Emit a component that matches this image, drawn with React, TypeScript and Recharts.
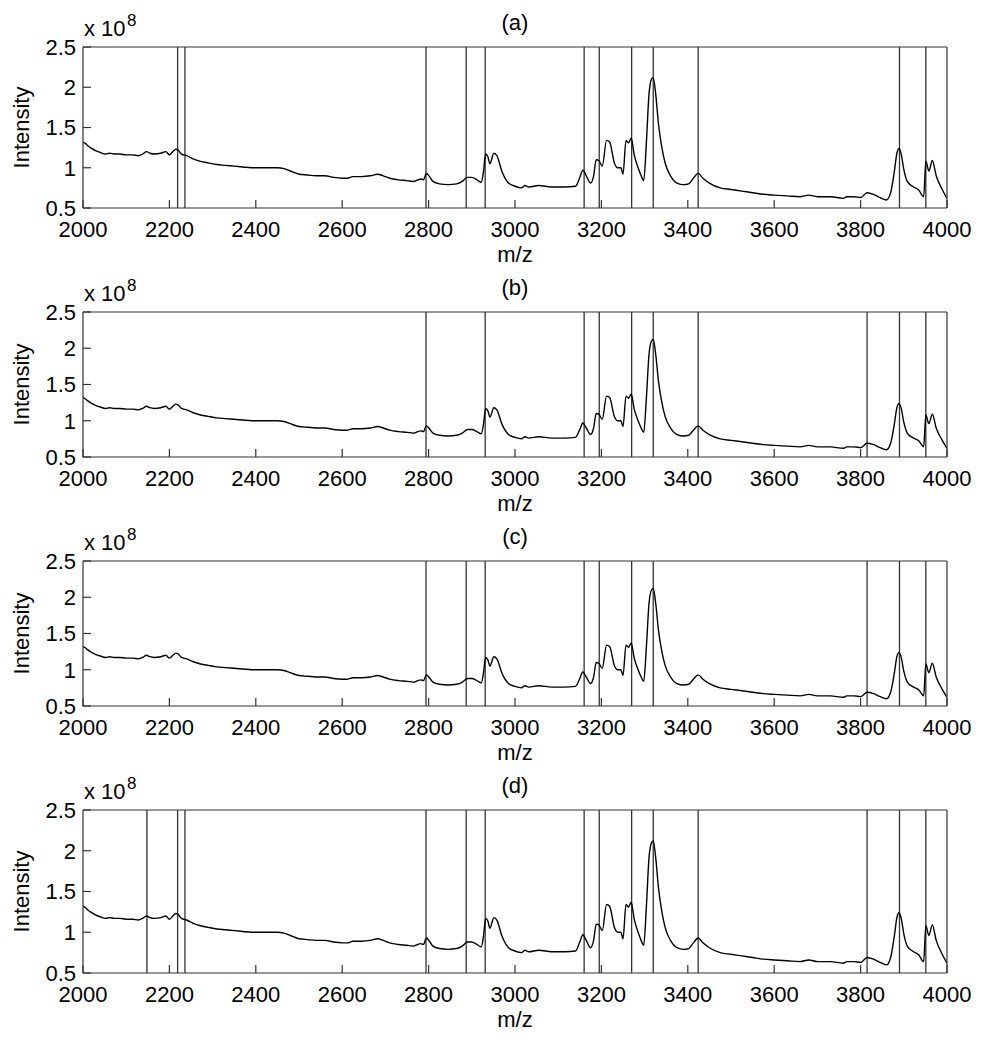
import { LineChart, Line, XAxis, YAxis, ReferenceLine } from "recharts";

// m/z sample positions and intensity (x 10^8)
const mzValues = [
  2000, 2006, 2012, 2020, 2030, 2040, 2052, 2062, 2072, 2085, 2100, 2115, 2128, 2138, 2147, 2155,
  2165, 2180, 2192, 2200, 2208, 2215, 2220, 2228, 2240, 2255, 2272, 2290, 2310, 2330, 2350, 2370,
  2390, 2410, 2430, 2450, 2465, 2480, 2500, 2520, 2540, 2560, 2580, 2600, 2612, 2625, 2645, 2665,
  2682, 2695, 2710, 2730, 2750, 2765, 2775, 2782, 2788, 2795, 2802, 2810, 2825, 2845, 2865, 2878,
  2890, 2900, 2912, 2922, 2927, 2932, 2937, 2942, 2951, 2958, 2970, 2985, 3000, 3015, 3023, 3032,
  3055, 3085, 3115, 3140, 3150, 3157, 3165, 3175, 3182, 3188, 3194, 3202, 3212, 3219, 3230, 3238,
  3245, 3250, 3257, 3263, 3269, 3276, 3285, 3292, 3298, 3304, 3310, 3316, 3320, 3326, 3332, 3340,
  3348, 3360, 3375, 3390, 3402, 3413, 3424, 3435, 3450, 3475, 3500, 3525, 3550, 3575, 3600, 3630,
  3660, 3680, 3700, 3730, 3760, 3768, 3785, 3800, 3815, 3830, 3845, 3860, 3870, 3878, 3884, 3889,
  3894, 3900, 3908, 3920, 3935, 3946, 3951, 3958, 3966, 3975, 3988, 4000,
];

const intensityValues = [
  1.32, 1.3, 1.27, 1.24, 1.21, 1.19, 1.17, 1.18, 1.17, 1.17, 1.16, 1.16, 1.15, 1.17, 1.2, 1.18,
  1.17, 1.18, 1.2, 1.16, 1.2, 1.23, 1.22, 1.17, 1.15, 1.11, 1.08, 1.06, 1.04, 1.03, 1.02, 1.01,
  1.0, 1.0, 1.0, 1.0, 0.99, 0.96, 0.92, 0.91, 0.9, 0.9, 0.88, 0.87, 0.87, 0.89, 0.89, 0.9,
  0.92, 0.9, 0.87, 0.85, 0.84, 0.83, 0.85, 0.86, 0.85, 0.93, 0.89, 0.83, 0.8, 0.79, 0.8, 0.83,
  0.88, 0.88, 0.85, 0.82, 0.95, 1.17, 1.14, 1.05, 1.18, 1.15, 0.95, 0.81, 0.77, 0.75, 0.78, 0.76,
  0.78, 0.76, 0.76, 0.77, 0.88, 0.97, 0.9, 0.81, 0.9, 1.1, 1.09, 1.02, 1.34, 1.32, 1.06, 1.0,
  1.0, 0.92, 1.34, 1.31, 1.37, 1.16, 1.0, 0.9, 0.84, 1.3, 1.9, 2.1, 2.12, 1.9, 1.55, 1.25,
  1.05, 0.9, 0.81, 0.79, 0.8, 0.87, 0.93, 0.87, 0.81, 0.75, 0.73, 0.71, 0.69, 0.67, 0.66, 0.65,
  0.64, 0.66, 0.64, 0.64, 0.62, 0.64, 0.64, 0.63, 0.69, 0.67, 0.63, 0.6, 0.7, 0.95, 1.18, 1.24,
  1.17, 0.98, 0.83, 0.77, 0.72, 0.64, 1.08, 0.96, 1.09, 0.9, 0.74, 0.62,
];

const xTicks = [2000, 2200, 2400, 2600, 2800, 3000, 3200, 3400, 3600, 3800, 4000];
const yTicks = [0.5, 1, 1.5, 2, 2.5];

// detected peak positions marked in each panel
const peaksA = [2219, 2236, 2794, 2887, 2931, 3160, 3195, 3270, 3320, 3424, 3890, 3951];
const peaksB = [2794, 2931, 3160, 3195, 3270, 3320, 3424, 3815, 3890, 3951];
const peaksC = [2794, 2887, 2931, 3160, 3195, 3270, 3320, 3815, 3890, 3951];
const peaksD = [2148, 2219, 2236, 2794, 2887, 2931, 3160, 3195, 3270, 3320, 3424, 3815, 3890, 3951];

const panelLabels = ["(a)", "(b)", "(c)", "(d)"];

const spectrum = mzValues.map((mz, i) => ({ mz, intensity: intensityValues[i] }));

const FONT = "'Liberation Sans', Arial, sans-serif";
const AXIS = "#333";
const PAD = 60;
const LEFT = 83;
const RIGHT = 947;
const Y_W = 40; // left axis band
const R_W = 10; // right axis band
const B_H = 30; // bottom axis band
const T_H = 10; // top axis band

const panels = [
  { top: 47, height: 161, peaks: peaksA },
  { top: 312, height: 145, peaks: peaksB },
  { top: 561, height: 145, peaks: peaksC },
  { top: 810, height: 163, peaks: peaksD },
];

function Panel({ top, height, peaks }: { top: number; height: number; peaks: number[] }) {
  const tickFont = { fontSize: 22, fill: "#000", fontFamily: FONT };
  const line = { stroke: AXIS, strokeWidth: 1.2 };
  return (
    <div style={{ position: "absolute", left: 0, top: top - PAD }}>
      <LineChart
        width={990}
        height={height + 2 * PAD}
        data={spectrum}
        margin={{ top: PAD - T_H, right: 990 - RIGHT - R_W, bottom: PAD - B_H, left: LEFT - Y_W }}
      >
        <XAxis
          dataKey="mz"
          type="number"
          domain={[2000, 4000]}
          ticks={xTicks}
          interval={0}
          height={B_H}
          tickSize={-8}
          tickMargin={21}
          axisLine={line}
          tickLine={line}
          tick={tickFont}
          allowDataOverflow
        />
        <XAxis
          xAxisId="top"
          orientation="top"
          dataKey="mz"
          type="number"
          domain={[2000, 4000]}
          ticks={xTicks}
          interval={0}
          height={T_H}
          tickSize={-8}
          axisLine={line}
          tickLine={line}
          tick={false}
          allowDataOverflow
        />
        <YAxis
          type="number"
          domain={[0.5, 2.5]}
          ticks={yTicks}
          interval={0}
          width={Y_W}
          tickSize={-8}
          tickMargin={15}
          axisLine={line}
          tickLine={line}
          tick={tickFont}
          allowDataOverflow
        />
        <YAxis
          yAxisId="right"
          orientation="right"
          type="number"
          domain={[0.5, 2.5]}
          ticks={yTicks}
          interval={0}
          width={R_W}
          tickSize={-8}
          axisLine={line}
          tickLine={line}
          tick={false}
          allowDataOverflow
        />
        {peaks.map((p) => (
          <ReferenceLine key={p} x={p} stroke={AXIS} strokeWidth={1.3} />
        ))}
        <Line
          type="monotone"
          dataKey="intensity"
          stroke="#000"
          strokeWidth={1.4}
          dot={false}
          isAnimationActive={false}
        />
      </LineChart>
    </div>
  );
}

export default function App() {
  return (
    <div style={{ position: "absolute", left: 0, top: 0, width: 990, height: 1050, background: "#fff" }}>
      {panels.map((p, i) => (
        <Panel key={i} top={p.top} height={p.height} peaks={p.peaks} />
      ))}
      <svg
        width={990}
        height={1050}
        style={{ position: "absolute", left: 0, top: 0, pointerEvents: "none" }}
        fontFamily={FONT}
      >
        {panels.map((p, i) => {
          const bottom = p.top + p.height;
          const mid = p.top + p.height / 2;
          return (
            <g key={i}>
              <text x={(LEFT + RIGHT) / 2} y={p.top - 17} fontSize={22} textAnchor="middle" fill="#000">
                {panelLabels[i]}
              </text>
              <text x={84} y={p.top - 11} fontSize={22} fill="#000">
                x 10
              </text>
              <text x={127} y={p.top - 21} fontSize={17} fill="#000">
                8
              </text>
              <text x={(LEFT + RIGHT) / 2} y={bottom + 54} fontSize={22} textAnchor="middle" fill="#000">
                m/z
              </text>
              <text
                x={29}
                y={mid}
                fontSize={22}
                textAnchor="middle"
                fill="#000"
                transform={`rotate(-90 29 ${mid})`}
              >
                Intensity
              </text>
            </g>
          );
        })}
      </svg>
    </div>
  );
}
